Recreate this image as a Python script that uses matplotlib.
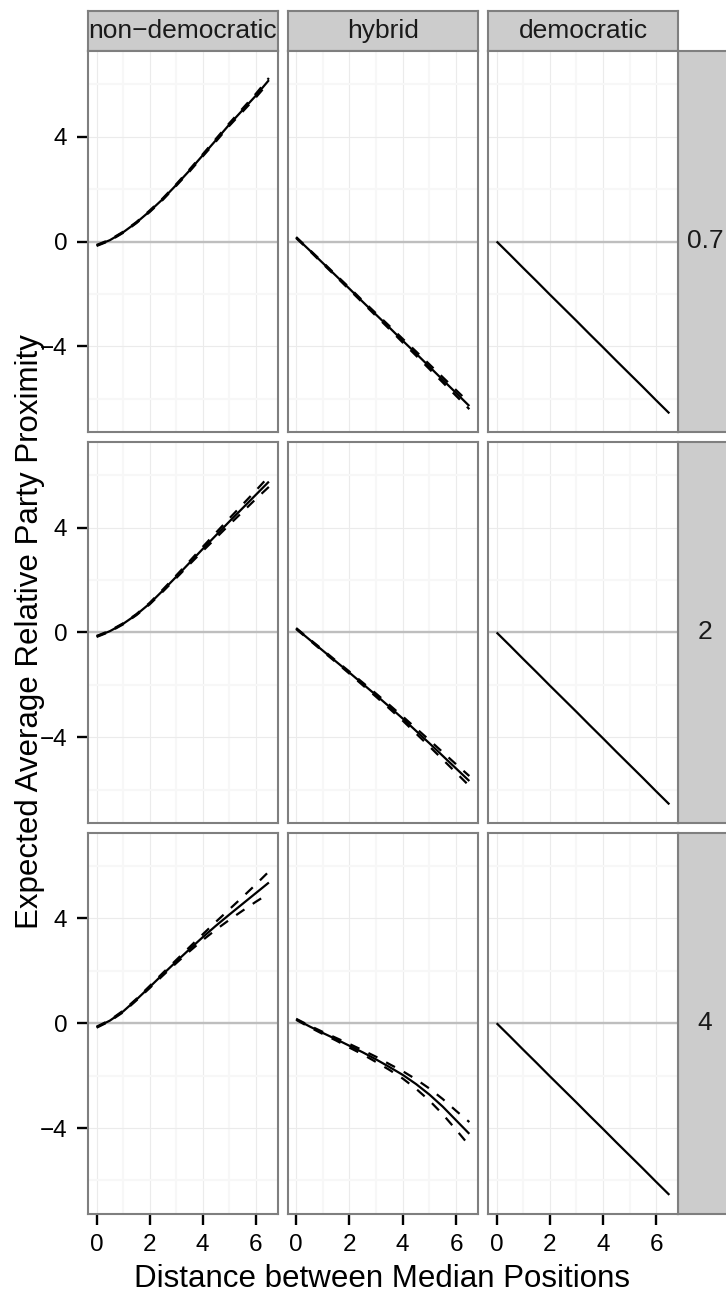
#!/usr/bin/env python3
"""Facet grid: expected average relative party proximity by regime type and rho."""
import matplotlib
matplotlib.use('Agg')
import matplotlib.pyplot as plt

plt.rcParams['font.family'] = ['Liberation Sans', 'DejaVu Sans']

COLS = ['non\u2212democratic', 'hybrid', 'democratic']
ROWS = ['0.7', '2', '4']

X = [0, 0.5, 1, 1.5, 2, 2.5, 3, 3.5, 4, 4.5, 5, 5.5, 6, 6.5]

# row 0.7
ND07_MEAN = [-0.15, 0.05, 0.35, 0.72, 1.15, 1.62, 2.15, 2.70, 3.28, 3.86, 4.45, 5.00, 5.55, 6.15]
ND07_LO = [-0.17, 0.03, 0.33, 0.70, 1.12, 1.59, 2.12, 2.66, 3.24, 3.81, 4.40, 4.94, 5.48, 6.07]
ND07_HI = [-0.13, 0.07, 0.37, 0.74, 1.18, 1.65, 2.18, 2.74, 3.32, 3.91, 4.50, 5.06, 5.62, 6.23]
HY07_MEAN = [0.15, -0.33, -0.82, -1.31, -1.80, -2.30, -2.79, -3.28, -3.78, -4.27, -4.77, -5.27, -5.77, -6.27]
HY07_LO = [0.13, -0.35, -0.85, -1.34, -1.84, -2.34, -2.84, -3.34, -3.85, -4.35, -4.86, -5.37, -5.88, -6.39]
HY07_HI = [0.17, -0.31, -0.79, -1.28, -1.76, -2.26, -2.74, -3.22, -3.71, -4.19, -4.68, -5.17, -5.66, -6.15]

# row 2
ND2_MEAN = [-0.15, 0.05, 0.33, 0.68, 1.10, 1.60, 2.12, 2.65, 3.18, 3.70, 4.22, 4.73, 5.24, 5.75]
ND2_LO = [-0.17, 0.03, 0.31, 0.66, 1.07, 1.56, 2.07, 2.59, 3.10, 3.60, 4.10, 4.59, 5.08, 5.55]
ND2_HI = [-0.13, 0.07, 0.35, 0.70, 1.13, 1.64, 2.17, 2.71, 3.26, 3.80, 4.34, 4.87, 5.40, 5.95]
HY2_MEAN = [0.15, -0.27, -0.69, -1.11, -1.53, -1.96, -2.39, -2.83, -3.28, -3.75, -4.22, -4.70, -5.18, -5.66]
HY2_LO = [0.13, -0.29, -0.72, -1.14, -1.57, -2.01, -2.45, -2.90, -3.36, -3.85, -4.34, -4.84, -5.34, -5.85]
HY2_HI = [0.17, -0.25, -0.66, -1.08, -1.49, -1.91, -2.33, -2.76, -3.20, -3.65, -4.10, -4.56, -5.02, -5.47]

# row 4
ND4_MEAN = [-0.15, 0.10, 0.45, 0.90, 1.38, 1.87, 2.35, 2.82, 3.28, 3.72, 4.14, 4.55, 4.96, 5.37]
ND4_LO = [-0.17, 0.08, 0.42, 0.87, 1.34, 1.82, 2.29, 2.74, 3.17, 3.57, 3.94, 4.29, 4.63, 4.95]
ND4_HI = [-0.13, 0.12, 0.48, 0.93, 1.42, 1.92, 2.41, 2.90, 3.39, 3.87, 4.34, 4.81, 5.29, 5.79]
HY4_MEAN = [0.15, -0.12, -0.37, -0.61, -0.86, -1.11, -1.38, -1.67, -1.97, -2.32, -2.72, -3.18, -3.70, -4.22]
HY4_LO = [0.13, -0.15, -0.41, -0.66, -0.93, -1.19, -1.48, -1.78, -2.11, -2.50, -2.95, -3.47, -4.06, -4.67]
HY4_HI = [0.17, -0.09, -0.33, -0.56, -0.79, -1.03, -1.28, -1.56, -1.83, -2.14, -2.49, -2.89, -3.34, -3.77]

# democratic: same line in every row, no visible interval
DEM_MEAN = [0, -0.50, -1.01, -1.51, -2.02, -2.52, -3.02, -3.53, -4.03, -4.54, -5.04, -5.54, -6.05, -6.55]

PANELS = [
    [(ND07_MEAN, ND07_LO, ND07_HI), (HY07_MEAN, HY07_LO, HY07_HI), (DEM_MEAN, None, None)],
    [(ND2_MEAN, ND2_LO, ND2_HI), (HY2_MEAN, HY2_LO, HY2_HI), (DEM_MEAN, None, None)],
    [(ND4_MEAN, ND4_LO, ND4_HI), (HY4_MEAN, HY4_LO, HY4_HI), (DEM_MEAN, None, None)],
]

W, H = 726, 1293
COL_PX = [(88, 277.5), (287.5, 478), (488, 678)]
ROW_PX = [(51, 432), (442, 823), (833, 1213.5)]
BORDER = '#7F7F7F'


def rect(x0, y0, x1, y1):
    return [x0 / W, 1 - y1 / H, (x1 - x0) / W, (y1 - y0) / H]


def strip(fig, r, label):
    ax = fig.add_axes(rect(*r))
    ax.set_facecolor('#CCCCCC')
    ax.set_xticks([]); ax.set_yticks([])
    for s in ax.spines.values():
        s.set_color(BORDER); s.set_linewidth(1.5)
    ax.text(0.5, 0.5, label, ha='center', va='center', fontsize=19,
            color='#1A1A1A', transform=ax.transAxes, clip_on=True)
    return ax


def main():
    fig = plt.figure(figsize=(W / 100, H / 100), dpi=100)

    for j, (x0, x1) in enumerate(COL_PX):
        strip(fig, (x0, 11, x1, 51), COLS[j])
    for i, (y0, y1) in enumerate(ROW_PX):
        strip(fig, (678, y0, 732, y1), ROWS[i])

    for i, (y0, y1) in enumerate(ROW_PX):
        for j, (x0, x1) in enumerate(COL_PX):
            ax = fig.add_axes(rect(x0, y0, x1, y1))
            ax.set_xlim(-0.325, 6.825)
            ax.set_ylim(-7.26, 7.26)
            ax.set_xticks([0, 2, 4, 6]); ax.set_xticks([1, 3, 5], minor=True)
            ax.set_yticks([-4, 0, 4]); ax.set_yticks([-6, -2, 2, 6], minor=True)
            ax.grid(which='major', color='#EBEBEB', lw=0.8)
            ax.grid(which='minor', color='#F7F7F7', lw=1.5)
            ax.set_axisbelow(True)
            for s in ax.spines.values():
                s.set_color(BORDER); s.set_linewidth(1.5)
            ax.tick_params(which='minor', length=0)
            ax.tick_params(which='major', length=8, width=1.7, color='black',
                           labelsize=17.5, labelcolor='black', pad=7,
                           left=(j == 0), labelleft=(j == 0),
                           bottom=(i == 2), labelbottom=(i == 2))

            ax.axhline(0, color='#BEBEBE', lw=1.7, zorder=1.5)
            mean, lo, hi = PANELS[i][j]
            ax.plot(X, mean, color='black', lw=1.6, solid_capstyle='butt')
            if lo is not None:
                for band in (lo, hi):
                    ax.plot(X, band, color='black', lw=1.6, dashes=(4.5, 4.5))

    fig.text(382.5 / W, 1 - 1287 / H, 'Distance between Median Positions',
             ha='center', va='baseline', fontsize=22.5)
    fig.text(30 / W, 1 - 632 / H, 'Expected Average Relative Party Proximity',
             ha='center', va='center', rotation=90, fontsize=22.5)

    fig.savefig('out.png', dpi=100)
    plt.close(fig)


if __name__ == '__main__':
    main()
